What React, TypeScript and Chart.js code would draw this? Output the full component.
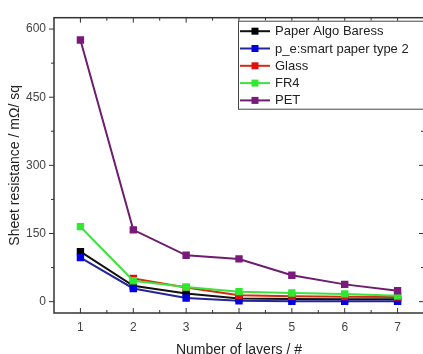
import React, { useEffect, useRef } from "react";
import { Chart, registerables } from "chart.js";

Chart.register(...registerables);

const layers = [1, 2, 3, 4, 5, 6, 7];
const paperAlgo = [110, 35, 18, 7, 6, 5, 5];
const smartPaper = [97, 29, 8, 2, 1, 1, 1];
const glass = [null, 51, 31, 14, 12, 11, 10];
const fr4 = [165, 46, 32, 22, 19, 17, 13];
const pet = [576, 158, 102, 94, 58, 38, 24];
const yTickValues = [0, 150, 300, 450, 600];
const seriesNames = ["Paper Algo Baress", "p_e:smart paper type 2", "Glass", "FR4", "PET"];

const FONT = "'Liberation Sans', Arial, Helvetica, sans-serif";

const framePlugin = {
  id: "frame",
  afterDatasetsDraw(chart: any) {
    const { ctx, chartArea, scales } = chart;
    const { left, right, top, bottom } = chartArea;
    const x = scales.x;
    const y = scales.y;
    ctx.save();
    ctx.strokeStyle = "#333";
    ctx.lineWidth = 1.5;
    ctx.strokeRect(left, top, right - left, bottom - top);
    ctx.lineWidth = 1;
    for (let i = 0; i < yTickValues.length; i++) {
      const vals = [yTickValues[i]];
      if (i < yTickValues.length - 1) vals.push((yTickValues[i] + yTickValues[i + 1]) / 2);
      vals.forEach((v, k) => {
        const py = y.getPixelForValue(v);
        const len = k === 0 ? 5 : 3;
        ctx.beginPath();
        ctx.moveTo(left - len, py);
        ctx.lineTo(left, py);
        ctx.moveTo(right, py);
        ctx.lineTo(right - len, py);
        ctx.stroke();
      });
    }
    layers.forEach((v, i) => {
      const vals = [v];
      if (i < layers.length - 1) vals.push((v + layers[i + 1]) / 2);
      vals.forEach((vv, k) => {
        const px = x.getPixelForValue(vv);
        const len = k === 0 ? 5 : 3;
        ctx.beginPath();
        ctx.moveTo(px, bottom);
        ctx.lineTo(px, bottom - len);
        ctx.moveTo(px, top);
        ctx.lineTo(px, top + len);
        ctx.stroke();
      });
    });
    ctx.restore();
  },
  afterDraw(chart: any) {
    const { ctx, chartArea } = chart;
    const bx = chartArea.left + 184;
    const by = chartArea.top + 3;
    const rowH = 17.3;
    ctx.save();
    ctx.fillStyle = "#fff";
    ctx.fillRect(bx, by, 260, rowH * 5 + 1.5);
    ctx.strokeStyle = "#444";
    ctx.lineWidth = 1;
    ctx.strokeRect(bx + 0.5, by + 0.5, 260, rowH * 5 + 1.5);
    ctx.font = `13px ${FONT}`;
    ctx.textBaseline = "middle";
    chart.data.datasets.forEach((ds: any, i: number) => {
      const cy = by + 10.5 + i * rowH;
      ctx.strokeStyle = ds.borderColor;
      ctx.lineWidth = 2;
      ctx.beginPath();
      ctx.moveTo(bx + 2, cy);
      ctx.lineTo(bx + 32, cy);
      ctx.stroke();
      ctx.fillStyle = ds.pointBackgroundColor;
      ctx.fillRect(bx + 17 - 3.5, cy - 3.5, 7, 7);
      ctx.fillStyle = "#222";
      ctx.fillText(ds.label, bx + 37, cy + 0.5);
    });
    ctx.restore();
  },
};

function toPoints(vals: (number | null)[]) {
  return layers.map((l, i) => ({ x: l, y: vals[i] }));
}

export default function App() {
  const ref = useRef<HTMLCanvasElement>(null);
  useEffect(() => {
    if (!ref.current) return;
    Chart.defaults.font.family = FONT;
    const mk = (label: string, vals: (number | null)[], line: string, pt: string, order: number) => ({
      label,
      data: toPoints(vals),
      borderColor: line,
      backgroundColor: pt,
      pointBackgroundColor: pt,
      pointBorderColor: pt,
      pointStyle: "rect",
      pointRadius: 3.8,
      borderWidth: 2,
      spanGaps: false,
      order,
    });
    const chart = new Chart(ref.current, {
      type: "line",
      data: {
        datasets: [
          mk(seriesNames[0], paperAlgo, "#111111", "#000000", 5),
          mk(seriesNames[1], smartPaper, "#25259a", "#0000e0", 4),
          mk(seriesNames[2], glass, "#d42a10", "#e01010", 3),
          mk(seriesNames[3], fr4, "#3ee23e", "#30e830", 2),
          mk(seriesNames[4], pet, "#6e1d6e", "#7a1a7a", 1),
        ] as any,
      },
      options: {
        animation: false,
        responsive: false,
        maintainAspectRatio: false,
        layout: { padding: { top: 17.7, right: 16, left: 0, bottom: 0 } },
        plugins: { legend: { display: false }, tooltip: { enabled: false } },
        scales: {
          x: {
            type: "linear",
            min: 0.5,
            max: 7.5,
            afterBuildTicks: (s: any) => {
              s.ticks = layers.map((v) => ({ value: v }));
            },
            afterFit: (s: any) => {
              s.height = 47;
            },
            grid: { display: false, drawTicks: false },
            border: { display: false },
            ticks: { color: "#444", font: { size: 12 }, padding: 7 },
            title: {
              display: true,
              text: "Number of layers / #",
              color: "#222",
              font: { size: 14 },
              padding: { top: 0, bottom: 1.8 },
            },
          },
          y: {
            type: "linear",
            min: -25,
            max: 625,
            afterBuildTicks: (s: any) => {
              s.ticks = yTickValues.map((v) => ({ value: v }));
            },
            afterFit: (s: any) => {
              s.width = 54;
            },
            grid: { display: false, drawTicks: false },
            border: { display: false },
            ticks: { color: "#444", font: { size: 12 }, padding: 8 },
            title: {
              display: true,
              text: "Sheet resistance / mΩ/ sq",
              color: "#222",
              font: { size: 14 },
              padding: { top: 7, bottom: 0 },
            },
          },
        },
      },
      plugins: [framePlugin],
    });
    return () => chart.destroy();
  }, []);
  return (
    <div style={{ position: "fixed", left: 0, top: 0, width: 423, height: 354, overflow: "hidden", background: "#fff" }}>
      <canvas ref={ref} width={440} height={360} style={{ width: 440, height: 360, display: "block" }} />
    </div>
  );
}
